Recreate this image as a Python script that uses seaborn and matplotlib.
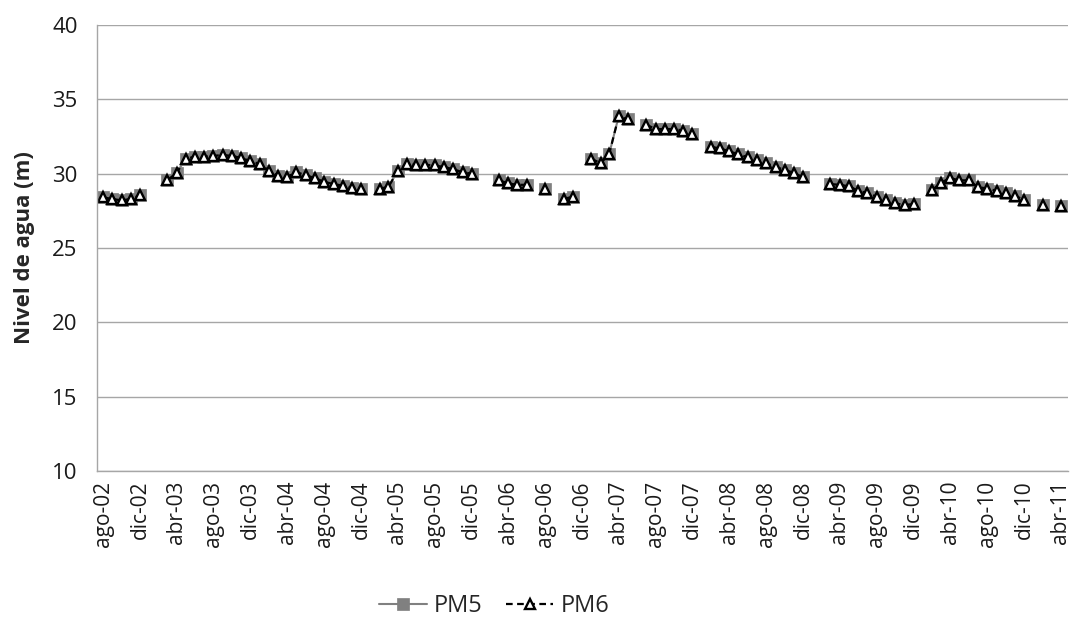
import numpy as np
import pandas as pd
import matplotlib
matplotlib.use("Agg")
import matplotlib.pyplot as plt
from matplotlib.lines import Line2D
import seaborn as sns

# Monthly groundwater level (m), ago-2002 .. abr-2011; NaN = no measurement
first_month = "2002-08"
last_month = "2011-04"
month_abbr = ["ene", "feb", "mar", "abr", "may", "jun",
              "jul", "ago", "sep", "oct", "nov", "dic"]
series_names = ["PM5", "PM6"]
nan = np.nan

pm5 = [
    28.4, 28.3, 28.2, 28.3, 28.55,                          # ago-dic 2002
    nan, nan, 29.55, 30.05, 31.0, 31.15, 31.15, 31.2, 31.25, 31.2, 31.05, 30.85,   # 2003
    30.65, 30.2, 29.85, 29.8, 30.1, 29.9, 29.7, 29.45, 29.3, 29.2, 29.05, 29.0,    # 2004
    nan, 29.0, 29.1, 30.2, 30.65, 30.6, 30.6, 30.55, 30.45, 30.3, 30.1, 30.0,       # 2005
    nan, nan, 29.55, 29.35, 29.25, 29.25, nan, 28.95, nan, 28.3, 28.45, nan,        # 2006
    31.0, 30.7, 31.35, 33.85, 33.65, nan, 33.3, 33.0, 33.0, 33.0, 32.9, 32.65,      # 2007
    nan, 31.8, 31.7, 31.5, 31.3, 31.1, 30.95, 30.7, 30.45, 30.25, 30.05, 29.75,     # 2008
    nan, nan, 29.3, 29.25, 29.15, 28.85, 28.7, 28.45, 28.2, 28.0, 27.9, 27.95,      # 2009
    nan, 28.9, 29.4, 29.7, 29.55, 29.55, 29.1, 29.0, 28.85, 28.7, 28.5, 28.25,      # 2010
    nan, 27.9, nan, 27.8,                                   # ene-abr 2011
]
pm6 = [
    28.4, 28.3, 28.2, 28.3, 28.55,
    nan, nan, 29.55, 30.05, 31.0, 31.15, 31.15, 31.2, 31.25, 31.2, 31.05, 30.85,
    30.65, 30.2, 29.85, 29.8, 30.1, 29.9, 29.7, 29.45, 29.3, 29.2, 29.05, 29.0,
    nan, 29.0, 29.1, 30.2, 30.65, 30.6, 30.6, 30.55, 30.45, 30.3, 30.1, 30.0,
    nan, nan, 29.55, 29.35, 29.25, 29.25, nan, 28.95, nan, 28.3, 28.45, nan,
    31.0, 30.7, 31.35, 33.85, 33.65, nan, 33.3, 33.0, 33.0, 33.0, 32.9, 32.65,
    nan, 31.8, 31.7, 31.5, 31.3, 31.1, 30.95, 30.7, 30.45, 30.25, 30.05, 29.75,
    nan, nan, 29.3, 29.25, 29.15, 28.85, 28.7, 28.45, 28.2, 28.0, 27.9, 27.95,
    nan, 28.9, 29.4, 29.7, 29.55, 29.55, 29.1, 29.0, 28.85, 28.7, 28.5, 28.25,
    nan, 27.9, nan, 27.8,
]

dates = pd.date_range(first_month, last_month, freq="MS")


def to_segments(values):
    """Long table where each unbroken run of measurements is its own unit."""
    s = pd.Series(values, dtype=float)
    df = pd.DataFrame({"fecha": dates, "nivel": s.values,
                       "tramo": s.isna().cumsum().values})
    return df.dropna()


d5 = to_segments(pm5)
d6 = to_segments(pm6)

sns.set_style("white")
plt.rcParams["font.family"] = ["Open Sans", "DejaVu Sans"]

fig = plt.figure(figsize=(10.7, 6.18), dpi=100)
ax = fig.add_axes([97 / 1070, 1 - 471 / 618, (1068 - 97) / 1070, (471 - 25) / 618])

grey = "#808080"
style5 = dict(color=grey, lw=1.5, marker="s", markersize=8.5,
              markerfacecolor=grey, markeredgecolor=grey, markeredgewidth=0.5)
style6 = dict(color="black", lw=1.6, linestyle=(0, (3, 2)), marker="^", markersize=7,
              markerfacecolor="white", markeredgecolor="black", markeredgewidth=1.7)

sns.lineplot(data=d5, x="fecha", y="nivel", units="tramo", estimator=None,
             legend=False, ax=ax, **style5)
sns.lineplot(data=d6, x="fecha", y="nivel", units="tramo", estimator=None,
             legend=False, ax=ax, **style6)

# Axes
ax.set_ylim(10, 40)
ax.set_yticks(range(10, 41, 5))
ax.set_xlim(dates[0] - pd.Timedelta(days=20), dates[-1] + pd.Timedelta(days=24))
tick_dates = dates[::4]
ax.set_xticks(tick_dates)
ax.set_xticklabels([f"{month_abbr[d.month - 1]}-{d.year % 100:02d}" for d in tick_dates],
                   rotation=90)
ax.grid(axis="y", color="#a6a6a6", lw=1)
ax.grid(axis="x", visible=False)
for side in ("top", "right"):
    ax.spines[side].set_visible(False)
for side in ("left", "bottom"):
    ax.spines[side].set_color("#a6a6a6")
    ax.spines[side].set_linewidth(1)
ax.tick_params(axis="both", length=0, colors="#1a1a1a")
ax.tick_params(axis="x", pad=7, labelsize=15)
ax.tick_params(axis="y", pad=14, labelsize=16)
ax.set_xlabel("")
ax.set_ylabel("Nivel de agua (m)", fontsize=16, fontweight="bold", labelpad=12)

handles = [Line2D([], [], **style5), Line2D([], [], **style6)]
fig.legend(handles, series_names, loc="lower center", bbox_to_anchor=(0.462, -0.035),
           ncol=2, frameon=False, fontsize=17, handlelength=2.0,
           handletextpad=0.3, columnspacing=1.0)

fig.savefig("out.png", dpi=100)
